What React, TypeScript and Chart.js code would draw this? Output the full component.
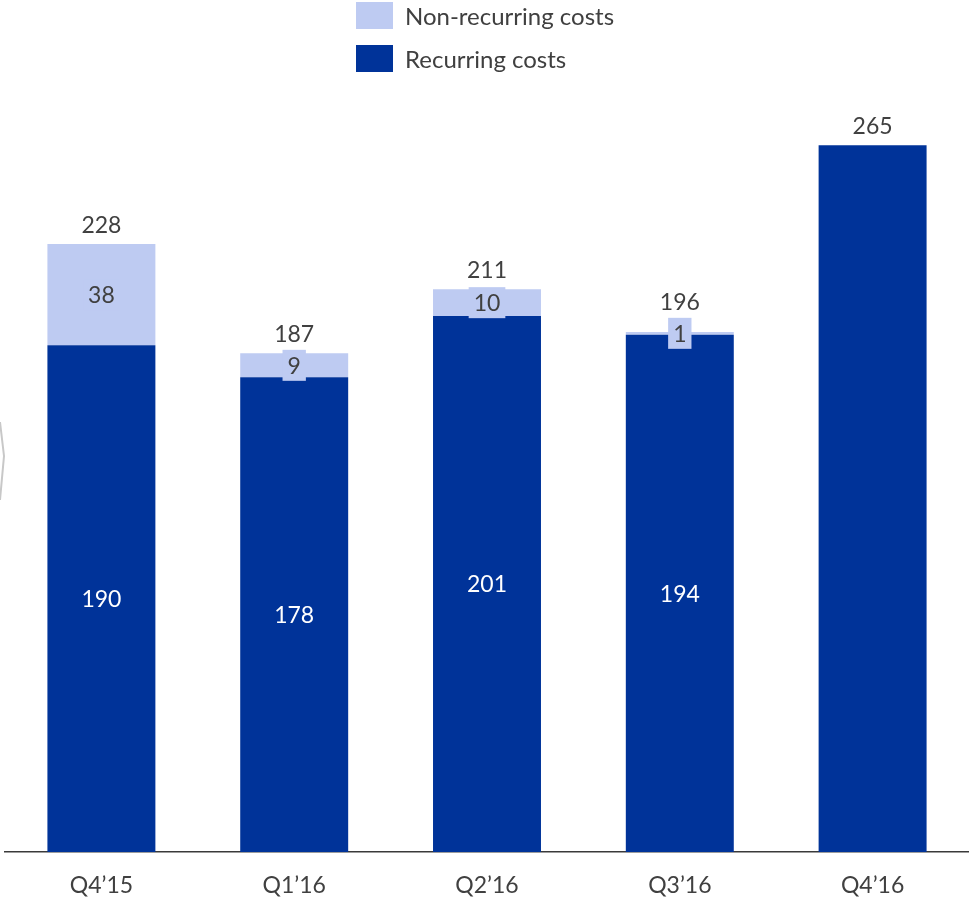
import React, { useEffect, useRef } from "react";
import { Chart, registerables } from "chart.js";

Chart.register(...registerables);

const categories = ["Q4\u201915", "Q1\u201916", "Q2\u201916", "Q3\u201916", "Q4\u201916"];
const recurring = [190, 178, 201, 194, 265];
const nonRecurring = [38, 9, 10, 1, 0];
const totals = [228, 187, 211, 196, 265];
const seriesNames = ["Non-recurring costs", "Recurring costs"];

const DARK = "#003399";
const LIGHT = "#BECBF2";
const TEXT = "#404040";
const FONT = "Lato, 'Open Sans', sans-serif";

const labelPlugin = {
  id: "valueLabels",
  beforeDraw(chart: any) {
    const ctx = chart.ctx;
    ctx.save();
    ctx.strokeStyle = "#c8c8c8";
    ctx.lineWidth = 2;
    ctx.beginPath();
    ctx.moveTo(0, 422);
    ctx.lineTo(4, 456);
    ctx.lineTo(0, 500);
    ctx.stroke();
    ctx.restore();
  },
  afterDatasetsDraw(chart: any) {
    const ctx = chart.ctx;
    const recMeta = chart.getDatasetMeta(0);
    const nonMeta = chart.getDatasetMeta(1);
    const boxTops: number[] = [];
    ctx.save();
    ctx.font = `23px ${FONT}`;
    ctx.textAlign = "center";
    ctx.textBaseline = "middle";
    recMeta.data.forEach((bar: any, i: number) => {
      if (!nonRecurring[i]) return;
      const cy = (bar.y + bar.base) / 2;
      ctx.fillStyle = "#ffffff";
      ctx.fillText(String(recurring[i]), bar.x, cy + 1);
    });
    nonMeta.data.forEach((bar: any, i: number) => {
      boxTops[i] = Infinity;
      if (!nonRecurring[i]) return;
      const cy = (bar.y + bar.base) / 2;
      const txt = String(nonRecurring[i]);
      const w = ctx.measureText(txt).width + 10;
      const h = 31;
      ctx.fillStyle = LIGHT;
      ctx.fillRect(bar.x - w / 2, cy - h / 2, w, h);
      boxTops[i] = cy - h / 2;
      ctx.fillStyle = TEXT;
      ctx.fillText(txt, bar.x, cy + 1);
    });
    ctx.textBaseline = "alphabetic";
    nonMeta.data.forEach((bar: any, i: number) => {
      const top = Math.min(bar.y, recMeta.data[i].y);
      const y = Math.min(top - 11, boxTops[i] - 8);
      ctx.fillStyle = TEXT;
      ctx.fillText(String(totals[i]), bar.x, y);
    });
    ctx.restore();
  },
};

export default function App() {
  const ref = useRef<HTMLCanvasElement>(null);
  useEffect(() => {
    if (!ref.current) return;
    const chart = new Chart(ref.current, {
      type: "bar",
      data: {
        labels: categories,
        datasets: [
          { label: seriesNames[1], data: recurring, backgroundColor: DARK, barPercentage: 0.56, categoryPercentage: 1 },
          { label: seriesNames[0], data: nonRecurring, backgroundColor: LIGHT, barPercentage: 0.56, categoryPercentage: 1 },
        ],
      },
      options: {
        animation: false,
        responsive: false,
        maintainAspectRatio: false,
        layout: { padding: { left: 5, right: 0, top: 52, bottom: 0 } },
        plugins: { legend: { display: false }, tooltip: { enabled: false } },
        scales: {
          x: {
            stacked: true,
            grid: { display: false, drawTicks: false },
            border: { display: true, color: "#3a3a3a", width: 1.5 },
            ticks: { color: TEXT, font: { family: FONT, size: 23 }, padding: 20 },
            afterFit: (scale: any) => {
              scale.height = 46;
            },
          },
          y: {
            stacked: true,
            display: false,
            min: 0,
            max: 300,
          },
        },
      },
      plugins: [labelPlugin],
    });
    return () => chart.destroy();
  }, []);

  const legendItems = [
    { name: seriesNames[0], color: LIGHT },
    { name: seriesNames[1], color: DARK },
  ];

  return (
    <div style={{ position: "absolute", left: 0, top: 0, width: 969, height: 898, background: "#fff" }}>
      <canvas ref={ref} width={969} height={898} style={{ position: "absolute", left: 0, top: 0 }} />
      <div style={{ position: "absolute", left: 356, top: 2, fontFamily: FONT, fontSize: 24, color: TEXT }}>
        {legendItems.map((it) => (
          <div key={it.name} style={{ display: "flex", alignItems: "center", height: 27, marginBottom: 16 }}>
            <span style={{ display: "inline-block", width: 37, height: 27, background: it.color, marginRight: 12 }} />
            <span style={{ lineHeight: "27px" }}>{it.name}</span>
          </div>
        ))}
      </div>
    </div>
  );
}
